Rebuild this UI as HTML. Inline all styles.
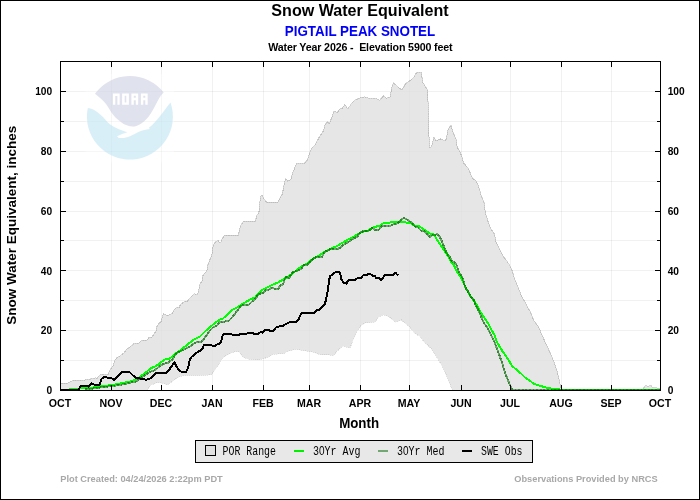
<!DOCTYPE html>
<html><head><meta charset="utf-8"><title>Snow Water Equivalent - PIGTAIL PEAK SNOTEL</title>
<style>html,body{margin:0;padding:0;background:#fff;width:700px;height:500px;overflow:hidden;font-family:"Liberation Sans",sans-serif}</style></head>
<body>
<svg width="700" height="500" viewBox="0 0 700 500" style="position:absolute;left:0;top:0;display:block;will-change:transform" font-family="'Liberation Sans', sans-serif">
<rect x="0" y="0" width="700" height="500" fill="#fff"/>
<rect x="0.5" y="0.5" width="699" height="499" fill="none" stroke="#000" stroke-width="1"/>
<g stroke="#000" stroke-opacity="0.055" stroke-width="1" shape-rendering="crispEdges">
<line x1="111.5" y1="61.5" x2="111.5" y2="390.5"/>
<line x1="161.5" y1="61.5" x2="161.5" y2="390.5"/>
<line x1="212.5" y1="61.5" x2="212.5" y2="390.5"/>
<line x1="263.5" y1="61.5" x2="263.5" y2="390.5"/>
<line x1="309.5" y1="61.5" x2="309.5" y2="390.5"/>
<line x1="360.5" y1="61.5" x2="360.5" y2="390.5"/>
<line x1="409.5" y1="61.5" x2="409.5" y2="390.5"/>
<line x1="461.5" y1="61.5" x2="461.5" y2="390.5"/>
<line x1="510.5" y1="61.5" x2="510.5" y2="390.5"/>
<line x1="561.5" y1="61.5" x2="561.5" y2="390.5"/>
<line x1="611.5" y1="61.5" x2="611.5" y2="390.5"/>
<line x1="60.5" y1="360.5" x2="660.5" y2="360.5"/>
<line x1="60.5" y1="330.5" x2="660.5" y2="330.5"/>
<line x1="60.5" y1="300.5" x2="660.5" y2="300.5"/>
<line x1="60.5" y1="270.5" x2="660.5" y2="270.5"/>
<line x1="60.5" y1="240.5" x2="660.5" y2="240.5"/>
<line x1="60.5" y1="211.5" x2="660.5" y2="211.5"/>
<line x1="60.5" y1="181.5" x2="660.5" y2="181.5"/>
<line x1="60.5" y1="151.5" x2="660.5" y2="151.5"/>
<line x1="60.5" y1="121.5" x2="660.5" y2="121.5"/>
<line x1="60.5" y1="91.5" x2="660.5" y2="91.5"/>
</g>
<g id="logo">
<rect x="85.5" y="74" width="88.5" height="88.5" fill="#fff" fill-opacity="0.4"/>
<path d="M95,93.8 A43.0,43.0 0 0 1 163.7,92.5 C162.6,93.6 161.7,94.6 160.8,95.7 C159.6,97.4 158.6,99.2 157.6,100.9 L154.4,107.3 C153.2,109.5 151.9,111.7 150.6,113.7 C149.4,115.5 148.1,117.2 146.7,118.8 C145.1,120.5 143.4,122 141.6,123.3 C140,124.4 138.3,125.3 136.4,125.9 C134.3,126.5 132.2,126.6 130,126.3 C127.8,125.8 125.6,125 123.6,124 C121.8,122.9 120,121.6 118.4,120.1 C116.6,118.6 114.8,116.9 113.3,115 C111.9,113.2 110.6,111.2 109.4,109.2 C108.2,107.2 107,105.2 105.6,103.4 C104,101.6 102.3,99.9 100.4,98.3 C98.7,96.7 96.9,95.2 95,93.8 Z" fill="#c1c5db" fill-opacity="0.5"/>
<path d="M87.8,107.9 C89.5,108.1 91.1,108.6 92.7,109.2 C94.5,110.1 96.3,111.2 97.9,112.4 C99.7,113.8 101.4,115.3 103,116.9 L108.1,122.7 C109.7,124.2 111.5,125.5 113.3,126.6 C114.9,127.6 116.6,128.4 118.4,129.1 C120.1,129.9 121.8,130.5 123.6,131.1 L127.4,132.3 C123.8,133.3 120.3,134.6 117.1,136.2 L118.7,137.9 C121.2,138.2 123.7,138 126.1,137.5 C128.3,136.8 130.5,135.9 132.6,134.9 L139,131.7 C141.1,130.9 143.2,130.3 145.4,129.8 L149.6,128.9 L149,127.6 C150.5,126.6 151.8,125.4 153.1,124 C154.9,122.2 156.6,120.2 158.3,118.2 L163.4,111.8 L167.3,106.6 L170.5,102.4 A43.0,43.0 0 1 1 87.8,107.9 Z" fill="#b3dff1" fill-opacity="0.5"/>
<path d="M112.9,104.7 V93.6 H119.7 V104.7 H117.4 V96 H115.30000000000001 V104.7 Z M122.1,93.6 H128.9 V104.7 H122.1 Z M124.69999999999999,95.8 V102.5 H126.3 V95.8 Z M131.4,104.7 V93.6 H138.20000000000002 V104.7 H135.8 V100.2 H133.8 V104.7 Z M133.8,95.8 V97.8 H135.8 V95.8 Z M140.9,104.7 V93.6 H147.70000000000002 V104.7 H145.3 V100.2 H143.3 V104.7 Z M143.3,95.8 V97.8 H145.3 V95.8 Z" fill="#fff" fill-rule="evenodd"/>
</g>
<polygon points="60.5,383.0 62.0,383.0 68.0,383.0 70.0,381.8 74.0,380.0 76.0,380.0 78.0,381.0 80.0,380.0 83.0,381.0 85.0,379.8 89.0,379.8 91.0,378.8 94.0,379.0 95.5,377.5 97.0,378.5 100.0,375.0 103.0,374.0 105.0,375.0 108.0,374.5 110.0,370.0 113.0,366.0 115.0,360.0 117.0,357.5 120.0,356.0 124.0,353.0 126.5,349.5 130.0,347.0 133.5,344.0 139.0,343.0 142.0,340.0 147.0,340.0 149.5,337.0 152.0,337.0 154.0,334.0 156.0,331.0 157.0,326.5 159.0,323.5 161.0,321.5 162.0,318.0 163.5,314.0 166.0,315.0 169.0,315.0 172.0,313.5 174.5,309.5 176.0,307.8 179.0,307.5 180.5,304.5 185.0,301.0 187.5,301.2 190.0,298.0 194.5,293.5 197.0,295.0 198.5,291.5 200.0,284.0 202.0,281.0 203.0,275.5 205.0,273.0 207.0,270.5 208.0,264.5 210.0,259.5 212.0,254.0 212.8,247.7 213.5,244.5 216.0,241.5 218.0,240.5 220.0,243.0 221.0,242.0 222.5,238.0 225.0,235.0 238.5,235.0 239.5,230.0 240.5,226.0 243.5,221.2 255.5,221.2 256.5,216.0 258.5,213.0 259.5,210.0 260.0,201.0 261.0,196.0 262.5,195.5 264.0,199.0 266.5,202.0 277.9,202.0 279.7,198.3 282.4,193.8 284.2,183.9 285.6,178.5 287.8,181.2 291.0,179.4 292.3,174.0 296.4,163.7 304.0,163.7 307.2,160.5 310.3,151.5 312.1,147.9 314.8,145.2 319.3,137.1 323.6,130.6 325.2,124.5 327.4,121.9 329.2,123.5 331.7,118.0 334.0,110.8 337.1,112.6 340.7,108.1 342.5,108.1 344.8,104.5 347.9,109.0 351.5,103.6 355.1,100.0 360.5,97.8 365.0,96.9 369.5,98.7 376.7,98.7 379.4,100.4 383.4,95.9 386.6,98.2 390.2,96.8 391.6,88.3 393.4,82.9 397.4,86.5 401.9,90.1 405.5,83.8 409.5,81.1 413.6,77.5 416.4,72.8 421.4,72.8 422.6,82.0 427.7,90.4 429.3,147.4 431.2,146.9 432.5,143.3 433.9,137.4 436.1,140.6 441.0,138.8 444.2,141.0 446.0,139.7 448.2,128.9 451.0,125.3 453.2,132.5 455.9,138.8 457.2,146.9 460.4,152.8 462.2,157.7 463.6,163.1 468.5,168.5 471.2,175.7 473.0,178.4 476.6,181.6 479.3,188.5 480.8,194.4 484.0,202.5 485.3,212.4 488.0,221.4 490.7,228.6 494.3,234.0 496.1,242.1 499.7,249.3 503.3,256.5 506.9,261.0 509.8,265.4 512.5,271.7 514.3,278.0 517.9,287.0 521.5,296.0 526.0,304.1 530.5,312.2 534.1,321.2 538.6,326.6 542.2,335.6 546.6,345.1 551.1,355.0 554.7,364.0 557.4,372.1 559.2,380.2 561.0,388.3 561.5,390.0 452.9,390.0 451.4,387.9 448.6,380.7 445.0,372.1 440.7,363.6 436.4,356.4 430.7,347.9 424.6,342.6 420.3,336.6 414.3,333.1 410.0,327.1 405.7,323.7 401.4,319.9 395.4,322.3 388.6,316.5 383.4,314.8 378.3,317.2 374.9,322.0 365.4,322.9 361.1,325.4 356.9,331.4 353.4,339.1 350.0,348.1 343.1,346.0 337.1,351.1 333.7,355.4 328.6,354.9 321.4,355.0 312.9,352.1 304.3,350.7 295.7,349.3 287.1,351.4 284.3,353.6 272.9,354.3 268.6,357.1 258.6,360.0 248.6,359.3 242.9,357.1 239.3,352.1 235.7,351.4 231.4,352.9 225.7,355.7 221.4,359.3 217.9,365.7 214.3,370.7 211.4,374.7 204.3,375.3 197.1,375.6 184.0,375.5 180.0,376.5 177.0,378.0 173.0,381.0 170.0,383.0 167.0,385.0 164.0,383.5 160.0,382.5 156.0,383.0 151.0,385.0 147.0,390.0 60.5,390.0" fill="#e0e0e0" fill-opacity="0.8" stroke="none"/>
<polygon points="642.0,390.0 642.9,388.6 645.7,385.4 648.0,386.3 650.9,385.4 652.6,387.4 659.4,388.3 660.5,388.5 660.5,390.0" fill="#e0e0e0" fill-opacity="0.8" stroke="none"/>
<g fill="none" shape-rendering="crispEdges">
<polyline points="60.5,383.0 62.0,383.0 68.0,383.0 70.0,381.8 74.0,380.0 76.0,380.0 78.0,381.0 80.0,380.0 83.0,381.0 85.0,379.8 89.0,379.8 91.0,378.8 94.0,379.0 95.5,377.5 97.0,378.5 100.0,375.0 103.0,374.0 105.0,375.0 108.0,374.5 110.0,370.0 113.0,366.0 115.0,360.0 117.0,357.5 120.0,356.0 124.0,353.0 126.5,349.5 130.0,347.0 133.5,344.0 139.0,343.0 142.0,340.0 147.0,340.0 149.5,337.0 152.0,337.0 154.0,334.0 156.0,331.0 157.0,326.5 159.0,323.5 161.0,321.5 162.0,318.0 163.5,314.0 166.0,315.0 169.0,315.0 172.0,313.5 174.5,309.5 176.0,307.8 179.0,307.5 180.5,304.5 185.0,301.0 187.5,301.2 190.0,298.0 194.5,293.5 197.0,295.0 198.5,291.5 200.0,284.0 202.0,281.0 203.0,275.5 205.0,273.0 207.0,270.5 208.0,264.5 210.0,259.5 212.0,254.0 212.8,247.7 213.5,244.5 216.0,241.5 218.0,240.5 220.0,243.0 221.0,242.0 222.5,238.0 225.0,235.0 238.5,235.0 239.5,230.0 240.5,226.0 243.5,221.2 255.5,221.2 256.5,216.0 258.5,213.0 259.5,210.0 260.0,201.0 261.0,196.0 262.5,195.5 264.0,199.0 266.5,202.0 277.9,202.0 279.7,198.3 282.4,193.8 284.2,183.9 285.6,178.5 287.8,181.2 291.0,179.4 292.3,174.0 296.4,163.7 304.0,163.7 307.2,160.5 310.3,151.5 312.1,147.9 314.8,145.2 319.3,137.1 323.6,130.6 325.2,124.5 327.4,121.9 329.2,123.5 331.7,118.0 334.0,110.8 337.1,112.6 340.7,108.1 342.5,108.1 344.8,104.5 347.9,109.0 351.5,103.6 355.1,100.0 360.5,97.8 365.0,96.9 369.5,98.7 376.7,98.7 379.4,100.4 383.4,95.9 386.6,98.2 390.2,96.8 391.6,88.3 393.4,82.9 397.4,86.5 401.9,90.1 405.5,83.8 409.5,81.1 413.6,77.5 416.4,72.8 421.4,72.8 422.6,82.0 427.7,90.4 429.3,147.4 431.2,146.9 432.5,143.3 433.9,137.4 436.1,140.6 441.0,138.8 444.2,141.0 446.0,139.7 448.2,128.9 451.0,125.3 453.2,132.5 455.9,138.8 457.2,146.9 460.4,152.8 462.2,157.7 463.6,163.1 468.5,168.5 471.2,175.7 473.0,178.4 476.6,181.6 479.3,188.5 480.8,194.4 484.0,202.5 485.3,212.4 488.0,221.4 490.7,228.6 494.3,234.0 496.1,242.1 499.7,249.3 503.3,256.5 506.9,261.0 509.8,265.4 512.5,271.7 514.3,278.0 517.9,287.0 521.5,296.0 526.0,304.1 530.5,312.2 534.1,321.2 538.6,326.6 542.2,335.6 546.6,345.1 551.1,355.0 554.7,364.0 557.4,372.1 559.2,380.2 561.0,388.3 561.5,390.0" stroke="#808080" stroke-opacity="0.27" stroke-width="1"/>
<polyline points="60.5,383.0 62.0,383.0 68.0,383.0 70.0,381.8 74.0,380.0 76.0,380.0 78.0,381.0 80.0,380.0 83.0,381.0 85.0,379.8 89.0,379.8 91.0,378.8 94.0,379.0 95.5,377.5 97.0,378.5 100.0,375.0 103.0,374.0 105.0,375.0 108.0,374.5 110.0,370.0 113.0,366.0 115.0,360.0 117.0,357.5 120.0,356.0 124.0,353.0 126.5,349.5 130.0,347.0 133.5,344.0 139.0,343.0 142.0,340.0 147.0,340.0 149.5,337.0 152.0,337.0 154.0,334.0 156.0,331.0 157.0,326.5 159.0,323.5 161.0,321.5 162.0,318.0 163.5,314.0 166.0,315.0 169.0,315.0 172.0,313.5 174.5,309.5 176.0,307.8 179.0,307.5 180.5,304.5 185.0,301.0 187.5,301.2 190.0,298.0 194.5,293.5 197.0,295.0 198.5,291.5 200.0,284.0 202.0,281.0 203.0,275.5 205.0,273.0 207.0,270.5 208.0,264.5 210.0,259.5 212.0,254.0 212.8,247.7 213.5,244.5 216.0,241.5 218.0,240.5 220.0,243.0 221.0,242.0 222.5,238.0 225.0,235.0 238.5,235.0 239.5,230.0 240.5,226.0 243.5,221.2 255.5,221.2 256.5,216.0 258.5,213.0 259.5,210.0 260.0,201.0 261.0,196.0 262.5,195.5 264.0,199.0 266.5,202.0 277.9,202.0 279.7,198.3 282.4,193.8 284.2,183.9 285.6,178.5 287.8,181.2 291.0,179.4 292.3,174.0 296.4,163.7 304.0,163.7 307.2,160.5 310.3,151.5 312.1,147.9 314.8,145.2 319.3,137.1 323.6,130.6 325.2,124.5 327.4,121.9 329.2,123.5 331.7,118.0 334.0,110.8 337.1,112.6 340.7,108.1 342.5,108.1 344.8,104.5 347.9,109.0 351.5,103.6 355.1,100.0 360.5,97.8 365.0,96.9 369.5,98.7 376.7,98.7 379.4,100.4 383.4,95.9 386.6,98.2 390.2,96.8 391.6,88.3 393.4,82.9 397.4,86.5 401.9,90.1 405.5,83.8 409.5,81.1 413.6,77.5 416.4,72.8 421.4,72.8 422.6,82.0 427.7,90.4 429.3,147.4 431.2,146.9 432.5,143.3 433.9,137.4 436.1,140.6 441.0,138.8 444.2,141.0 446.0,139.7 448.2,128.9 451.0,125.3 453.2,132.5 455.9,138.8 457.2,146.9 460.4,152.8 462.2,157.7 463.6,163.1 468.5,168.5 471.2,175.7 473.0,178.4 476.6,181.6 479.3,188.5 480.8,194.4 484.0,202.5 485.3,212.4 488.0,221.4 490.7,228.6 494.3,234.0 496.1,242.1 499.7,249.3 503.3,256.5 506.9,261.0 509.8,265.4 512.5,271.7 514.3,278.0 517.9,287.0 521.5,296.0 526.0,304.1 530.5,312.2 534.1,321.2 538.6,326.6 542.2,335.6 546.6,345.1 551.1,355.0 554.7,364.0 557.4,372.1 559.2,380.2 561.0,388.3 561.5,390.0" stroke="#808080" stroke-opacity="0.2" stroke-width="1" stroke-dasharray="1 0.9"/>
<polyline points="642.9,388.6 645.7,385.4 648.0,386.3 650.9,385.4 652.6,387.4 659.4,388.3 660.5,388.5" stroke="#808080" stroke-opacity="0.3" stroke-width="1"/>
<polyline points="147.0,390.0 151.0,385.0 156.0,383.0 160.0,382.5 164.0,383.5 167.0,385.0 170.0,383.0 173.0,381.0 177.0,378.0 180.0,376.5 184.0,375.5 197.1,375.6 204.3,375.3 211.4,374.7 214.3,370.7 217.9,365.7 221.4,359.3 225.7,355.7 231.4,352.9 235.7,351.4 239.3,352.1 242.9,357.1 248.6,359.3 258.6,360.0 268.6,357.1 272.9,354.3 284.3,353.6 287.1,351.4 295.7,349.3 304.3,350.7 312.9,352.1 321.4,355.0 328.6,354.9 333.7,355.4 337.1,351.1 343.1,346.0 350.0,348.1 353.4,339.1 356.9,331.4 361.1,325.4 365.4,322.9 374.9,322.0 378.3,317.2 383.4,314.8 388.6,316.5 395.4,322.3 401.4,319.9 405.7,323.7 410.0,327.1 414.3,333.1 420.3,336.6 424.6,342.6 430.7,347.9 436.4,356.4 440.7,363.6 445.0,372.1 448.6,380.7 451.4,387.9 452.9,390.0" stroke="#808080" stroke-opacity="0.05" stroke-width="1"/>
<polyline points="147.0,390.0 151.0,385.0 156.0,383.0 160.0,382.5 164.0,383.5 167.0,385.0 170.0,383.0 173.0,381.0 177.0,378.0 180.0,376.5 184.0,375.5 197.1,375.6 204.3,375.3 211.4,374.7 214.3,370.7 217.9,365.7 221.4,359.3 225.7,355.7 231.4,352.9 235.7,351.4 239.3,352.1 242.9,357.1 248.6,359.3 258.6,360.0 268.6,357.1 272.9,354.3 284.3,353.6 287.1,351.4 295.7,349.3 304.3,350.7 312.9,352.1 321.4,355.0 328.6,354.9 333.7,355.4 337.1,351.1 343.1,346.0 350.0,348.1 353.4,339.1 356.9,331.4 361.1,325.4 365.4,322.9 374.9,322.0 378.3,317.2 383.4,314.8 388.6,316.5 395.4,322.3 401.4,319.9 405.7,323.7 410.0,327.1 414.3,333.1 420.3,336.6 424.6,342.6 430.7,347.9 436.4,356.4 440.7,363.6 445.0,372.1 448.6,380.7 451.4,387.9 452.9,390.0" stroke="#808080" stroke-opacity="0.16" stroke-width="1" stroke-dasharray="1 1"/>
</g>
<g fill="none" stroke-linejoin="round" shape-rendering="crispEdges">
<polyline points="69.0,388.6 80.0,388.5 90.0,388.0 100.0,386.5 112.0,385.0 120.0,383.5 130.0,381.5 135.0,379.8 137.1,378.6 140.7,376.4 144.3,373.6 147.9,370.7 151.4,367.9 155.0,366.4 158.6,364.3 162.1,361.4 165.7,358.9 169.3,358.6 172.9,356.4 176.4,352.9 180.0,350.8 185.0,346.5 190.0,342.5 193.0,340.0 200.0,336.5 205.0,331.5 210.0,327.0 215.0,323.0 220.0,319.5 223.0,318.5 228.0,314.0 232.0,310.0 237.0,307.5 242.0,304.0 246.0,302.0 250.0,299.5 255.0,297.5 259.0,293.0 263.0,289.5 268.0,287.0 273.0,284.5 278.0,282.5 283.0,279.5 288.0,276.5 293.0,273.0 298.0,269.0 303.0,265.5 308.0,263.0 312.0,259.5 314.0,258.0 320.0,255.0 325.0,251.5 331.0,248.5 337.0,246.0 342.0,243.0 348.0,239.5 354.0,236.5 358.0,234.0 362.0,232.0 368.0,230.5 373.0,227.5 380.0,225.5 384.0,223.0 390.0,222.5 395.0,222.0 401.0,221.8 405.0,222.2 408.0,223.2 411.0,223.5 415.0,226.0 419.0,226.0 423.0,229.0 427.0,231.5 431.0,234.0 434.0,234.5 436.0,238.0 439.0,243.0 442.0,247.0 444.0,250.0 448.0,256.0 451.0,261.5 454.0,265.5 457.0,272.0 460.5,276.5 463.0,282.0 465.0,286.0 468.0,292.0 471.0,297.0 474.0,301.0 477.0,305.5 480.0,311.0 483.0,316.0 486.0,320.0 489.0,325.0 491.5,330.0 494.5,335.0 496.5,341.0 499.5,346.5 503.0,352.0 508.0,359.0 512.0,366.0 517.0,370.0 521.0,373.5 525.0,377.5 529.0,380.0 534.0,384.0 539.0,385.5 544.0,387.0 549.0,388.3 555.0,389.0 561.0,389.6 570.0,390.0 660.5,390.0" stroke="#00ff00" stroke-width="2"/>
<polyline points="85.0,389.3 90.0,389.0 100.0,387.5 112.0,386.0 120.0,385.0 130.0,382.8 136.0,381.5 140.0,378.5 145.0,375.0 150.0,372.0 155.0,370.0 160.0,366.0 163.0,364.0 168.0,362.8 173.0,359.0 175.0,355.0 177.0,352.8 182.0,350.5 186.0,348.5 190.0,346.5 194.0,343.5 198.0,341.5 202.0,341.5 206.0,336.0 210.0,330.5 213.0,327.5 217.0,325.5 220.0,322.0 224.0,321.8 229.0,320.5 233.0,316.5 237.0,311.0 241.0,306.0 244.0,304.5 249.0,304.5 252.0,301.5 255.0,299.5 258.0,295.0 261.0,293.0 263.0,293.5 265.0,290.5 269.0,289.5 272.0,287.5 275.0,289.0 278.0,289.0 280.0,286.0 283.0,284.0 285.0,279.0 286.0,276.5 289.0,278.5 291.0,274.5 293.0,272.0 297.0,271.0 301.0,269.0 304.0,265.0 307.0,265.0 310.0,262.0 314.0,258.0 317.0,257.0 322.0,257.0 325.0,251.5 328.0,250.5 331.0,248.5 337.0,249.0 340.0,248.0 344.0,244.5 350.0,241.0 354.0,238.0 357.0,237.0 360.0,232.5 364.0,231.0 369.0,230.5 372.0,228.0 375.0,229.8 379.0,229.5 382.0,226.0 390.0,226.0 393.0,224.5 397.0,223.5 401.0,220.0 404.0,217.8 406.0,219.0 408.0,220.0 412.0,223.0 415.0,226.5 418.0,227.5 421.0,230.5 424.0,231.0 427.0,234.0 429.5,237.0 432.0,235.5 435.0,235.0 437.0,234.0 439.0,235.5 441.0,239.5 443.0,244.0 445.0,249.5 448.0,255.0 450.0,257.0 451.5,261.0 454.5,262.5 457.0,265.5 458.0,270.0 460.0,274.0 462.0,276.5 463.5,281.0 465.0,287.0 469.0,293.0 471.0,297.5 474.0,300.0 475.0,304.0 478.0,309.5 480.5,315.0 482.5,320.0 484.5,324.0 486.0,325.5 488.5,330.0 491.0,335.0 494.0,341.0 496.0,346.0 498.0,351.5 500.0,357.0 502.0,362.5 503.5,368.0 505.5,374.0 507.5,379.0 509.0,383.0 511.0,387.0 512.5,389.6 515.0,390.0 660.5,390.0" stroke="#006400" stroke-opacity="0.5" stroke-width="2"/>
<polyline points="85.0,389.3 90.0,389.0 100.0,387.5 112.0,386.0 120.0,385.0 130.0,382.8 136.0,381.5 140.0,378.5 145.0,375.0 150.0,372.0 155.0,370.0 160.0,366.0 163.0,364.0 168.0,362.8 173.0,359.0 175.0,355.0 177.0,352.8 182.0,350.5 186.0,348.5 190.0,346.5 194.0,343.5 198.0,341.5 202.0,341.5 206.0,336.0 210.0,330.5 213.0,327.5 217.0,325.5 220.0,322.0 224.0,321.8 229.0,320.5 233.0,316.5 237.0,311.0 241.0,306.0 244.0,304.5 249.0,304.5 252.0,301.5 255.0,299.5 258.0,295.0 261.0,293.0 263.0,293.5 265.0,290.5 269.0,289.5 272.0,287.5 275.0,289.0 278.0,289.0 280.0,286.0 283.0,284.0 285.0,279.0 286.0,276.5 289.0,278.5 291.0,274.5 293.0,272.0 297.0,271.0 301.0,269.0 304.0,265.0 307.0,265.0 310.0,262.0 314.0,258.0 317.0,257.0 322.0,257.0 325.0,251.5 328.0,250.5 331.0,248.5 337.0,249.0 340.0,248.0 344.0,244.5 350.0,241.0 354.0,238.0 357.0,237.0 360.0,232.5 364.0,231.0 369.0,230.5 372.0,228.0 375.0,229.8 379.0,229.5 382.0,226.0 390.0,226.0 393.0,224.5 397.0,223.5 401.0,220.0 404.0,217.8 406.0,219.0 408.0,220.0 412.0,223.0 415.0,226.5 418.0,227.5 421.0,230.5 424.0,231.0 427.0,234.0 429.5,237.0 432.0,235.5 435.0,235.0 437.0,234.0 439.0,235.5 441.0,239.5 443.0,244.0 445.0,249.5 448.0,255.0 450.0,257.0 451.5,261.0 454.5,262.5 457.0,265.5 458.0,270.0 460.0,274.0 462.0,276.5 463.5,281.0 465.0,287.0 469.0,293.0 471.0,297.5 474.0,300.0 475.0,304.0 478.0,309.5 480.5,315.0 482.5,320.0 484.5,324.0 486.0,325.5 488.5,330.0 491.0,335.0 494.0,341.0 496.0,346.0 498.0,351.5 500.0,357.0 502.0,362.5 503.5,368.0 505.5,374.0 507.5,379.0 509.0,383.0 511.0,387.0 512.5,389.6 515.0,390.0 660.5,390.0" stroke="#006400" stroke-opacity="0.5" stroke-width="2" stroke-dasharray="1.8 1.8"/>
<polyline points="60.5,390.0 78.5,389.5 81.0,385.8 86.5,385.8 88.5,386.8 91.5,383.5 93.5,384.2 95.0,385.0 99.5,385.0 100.5,382.0 101.5,379.0 103.5,377.5 106.0,376.8 107.0,377.5 111.0,377.8 114.0,380.0 117.0,377.0 120.0,374.0 122.5,371.8 126.0,371.8 130.0,372.5 133.0,375.5 136.4,378.1 140.0,378.5 143.0,378.5 146.0,380.0 150.0,378.5 154.0,375.0 156.5,372.8 166.0,372.8 168.5,371.0 171.0,367.0 174.5,362.5 176.5,366.5 178.5,369.5 181.0,371.5 184.0,372.5 186.0,372.0 188.0,368.0 190.0,359.0 192.0,356.5 197.0,352.5 202.0,349.5 204.0,345.0 210.0,344.5 212.0,345.5 214.5,346.0 217.0,344.5 220.0,343.5 221.5,340.0 222.5,336.0 224.0,334.0 230.0,333.8 233.0,334.8 239.0,334.8 240.0,334.0 246.0,333.8 248.0,333.0 253.0,333.0 254.5,334.0 258.0,334.0 260.5,332.0 262.5,332.8 265.0,329.8 268.0,329.8 270.0,330.8 273.0,330.8 276.0,327.5 279.0,326.5 283.0,325.8 286.0,324.0 290.0,322.0 296.5,321.8 298.5,319.5 300.5,315.0 302.0,313.0 314.0,313.0 316.5,310.2 319.5,310.0 322.0,307.0 325.0,303.8 326.5,297.0 328.0,289.0 329.0,281.0 330.0,276.0 332.0,274.8 335.0,272.5 339.5,272.0 340.5,275.0 341.5,279.5 343.5,282.5 346.5,283.5 348.0,280.5 351.0,279.8 355.5,279.8 357.5,278.0 361.0,277.8 363.0,275.5 366.0,275.0 370.0,273.8 373.5,276.5 375.0,276.0 376.0,278.0 379.0,278.2 381.5,280.0 385.0,275.0 393.5,275.0 395.5,272.8 397.0,274.5 398.5,275.0" stroke="#000" stroke-width="2"/>
</g>
<g stroke="#000" stroke-width="1" shape-rendering="crispEdges">
<rect x="60.5" y="61.5" width="600.0" height="329.0" fill="none"/>
<line x1="111.5" y1="390.5" x2="111.5" y2="385.0"/>
<line x1="111.5" y1="61.5" x2="111.5" y2="67.0"/>
<line x1="161.5" y1="390.5" x2="161.5" y2="385.0"/>
<line x1="161.5" y1="61.5" x2="161.5" y2="67.0"/>
<line x1="212.5" y1="390.5" x2="212.5" y2="385.0"/>
<line x1="212.5" y1="61.5" x2="212.5" y2="67.0"/>
<line x1="263.5" y1="390.5" x2="263.5" y2="385.0"/>
<line x1="263.5" y1="61.5" x2="263.5" y2="67.0"/>
<line x1="309.5" y1="390.5" x2="309.5" y2="385.0"/>
<line x1="309.5" y1="61.5" x2="309.5" y2="67.0"/>
<line x1="360.5" y1="390.5" x2="360.5" y2="385.0"/>
<line x1="360.5" y1="61.5" x2="360.5" y2="67.0"/>
<line x1="409.5" y1="390.5" x2="409.5" y2="385.0"/>
<line x1="409.5" y1="61.5" x2="409.5" y2="67.0"/>
<line x1="461.5" y1="390.5" x2="461.5" y2="385.0"/>
<line x1="461.5" y1="61.5" x2="461.5" y2="67.0"/>
<line x1="510.5" y1="390.5" x2="510.5" y2="385.0"/>
<line x1="510.5" y1="61.5" x2="510.5" y2="67.0"/>
<line x1="561.5" y1="390.5" x2="561.5" y2="385.0"/>
<line x1="561.5" y1="61.5" x2="561.5" y2="67.0"/>
<line x1="611.5" y1="390.5" x2="611.5" y2="385.0"/>
<line x1="611.5" y1="61.5" x2="611.5" y2="67.0"/>
<line x1="60.5" y1="360.5" x2="64.0" y2="360.5"/>
<line x1="660.5" y1="360.5" x2="657.0" y2="360.5"/>
<line x1="60.5" y1="330.5" x2="66.0" y2="330.5"/>
<line x1="660.5" y1="330.5" x2="655.0" y2="330.5"/>
<line x1="60.5" y1="300.5" x2="64.0" y2="300.5"/>
<line x1="660.5" y1="300.5" x2="657.0" y2="300.5"/>
<line x1="60.5" y1="270.5" x2="66.0" y2="270.5"/>
<line x1="660.5" y1="270.5" x2="655.0" y2="270.5"/>
<line x1="60.5" y1="240.5" x2="64.0" y2="240.5"/>
<line x1="660.5" y1="240.5" x2="657.0" y2="240.5"/>
<line x1="60.5" y1="211.5" x2="66.0" y2="211.5"/>
<line x1="660.5" y1="211.5" x2="655.0" y2="211.5"/>
<line x1="60.5" y1="181.5" x2="64.0" y2="181.5"/>
<line x1="660.5" y1="181.5" x2="657.0" y2="181.5"/>
<line x1="60.5" y1="151.5" x2="66.0" y2="151.5"/>
<line x1="660.5" y1="151.5" x2="655.0" y2="151.5"/>
<line x1="60.5" y1="121.5" x2="64.0" y2="121.5"/>
<line x1="660.5" y1="121.5" x2="657.0" y2="121.5"/>
<line x1="60.5" y1="91.5" x2="66.0" y2="91.5"/>
<line x1="660.5" y1="91.5" x2="655.0" y2="91.5"/>
</g>
<g font-weight="bold" fill="#000" style="filter:opacity(1)">
<text x="60.0" y="407" font-size="10.6" text-anchor="middle">OCT</text>
<text x="111.0" y="407" font-size="10.6" text-anchor="middle">NOV</text>
<text x="161.0" y="407" font-size="10.6" text-anchor="middle">DEC</text>
<text x="212.0" y="407" font-size="10.6" text-anchor="middle">JAN</text>
<text x="263.0" y="407" font-size="10.6" text-anchor="middle">FEB</text>
<text x="309.0" y="407" font-size="10.6" text-anchor="middle">MAR</text>
<text x="360.0" y="407" font-size="10.6" text-anchor="middle">APR</text>
<text x="409.0" y="407" font-size="10.6" text-anchor="middle">MAY</text>
<text x="461.0" y="407" font-size="10.6" text-anchor="middle">JUN</text>
<text x="510.0" y="407" font-size="10.6" text-anchor="middle">JUL</text>
<text x="561.0" y="407" font-size="10.6" text-anchor="middle">AUG</text>
<text x="611.0" y="407" font-size="10.6" text-anchor="middle">SEP</text>
<text x="660.0" y="407" font-size="10.6" text-anchor="middle">OCT</text>
<text x="52.2" y="394.1" font-size="10.2" text-anchor="end">0</text>
<text x="667.7" y="394.1" font-size="10.2" text-anchor="start">0</text>
<text x="52.2" y="334.3" font-size="10.2" text-anchor="end">20</text>
<text x="667.7" y="334.3" font-size="10.2" text-anchor="start">20</text>
<text x="52.2" y="274.5" font-size="10.2" text-anchor="end">40</text>
<text x="667.7" y="274.5" font-size="10.2" text-anchor="start">40</text>
<text x="52.2" y="214.6" font-size="10.2" text-anchor="end">60</text>
<text x="667.7" y="214.6" font-size="10.2" text-anchor="start">60</text>
<text x="52.2" y="154.8" font-size="10.2" text-anchor="end">80</text>
<text x="667.7" y="154.8" font-size="10.2" text-anchor="start">80</text>
<text x="52.2" y="95.0" font-size="10.2" text-anchor="end">100</text>
<text x="667.7" y="95.0" font-size="10.2" text-anchor="start">100</text>
<text x="360" y="15.6" font-size="16.1" text-anchor="middle">Snow Water Equivalent</text>
<text transform="translate(360,36.2) scale(1,1.07)" font-size="13.4" text-anchor="middle" fill="#0000f8">PIGTAIL PEAK SNOTEL</text>
<text x="360.4" y="50.8" font-size="10.67" text-anchor="middle" xml:space="preserve" textLength="184.5" lengthAdjust="spacing">Water Year 2026 -  Elevation 5900 feet</text>
<text transform="translate(359.1,427.9) scale(1,1.06)" font-size="13.33" text-anchor="middle">Month</text>
<text transform="translate(15.6,225.3) rotate(-90)" font-size="13.5" text-anchor="middle">Snow Water Equivalent, inches</text>
</g>
<rect x="195.5" y="440.5" width="337" height="22" fill="#e8e8e8" stroke="#000" stroke-width="1" shape-rendering="crispEdges"/>
<rect x="205.5" y="445.5" width="10" height="10" fill="#e0e0e0" stroke="#000" stroke-width="1" shape-rendering="crispEdges"/>
<rect x="294" y="450" width="10" height="2" fill="#00f000"/>
<rect x="378" y="450" width="10" height="2" fill="#72a672"/>
<rect x="462" y="450" width="10" height="2" fill="#000"/>
<text x="222.5" y="455" font-family="'Liberation Mono', monospace" font-size="13" fill="#000" textLength="53.5" lengthAdjust="spacingAndGlyphs">POR Range</text>
<text x="313" y="455" font-family="'Liberation Mono', monospace" font-size="13" fill="#000" textLength="47.5" lengthAdjust="spacingAndGlyphs">3<tspan font-family="'Liberation Sans', sans-serif">0</tspan>Yr Avg</text>
<text x="397" y="455" font-family="'Liberation Mono', monospace" font-size="13" fill="#000" textLength="47.5" lengthAdjust="spacingAndGlyphs">3<tspan font-family="'Liberation Sans', sans-serif">0</tspan>Yr Med</text>
<text x="481" y="455" font-family="'Liberation Mono', monospace" font-size="13" fill="#000" textLength="41.5" lengthAdjust="spacingAndGlyphs">SWE Obs</text>
<g font-weight="bold" fill="#a8a8a8" font-size="9.26" style="filter:opacity(1)">
<text x="60.3" y="481.7">Plot Created: 04/24/2026 2:22pm PDT</text>
<text x="657.7" y="481.7" text-anchor="end">Observations Provided by NRCS</text>
</g>
</svg>
</body></html>
